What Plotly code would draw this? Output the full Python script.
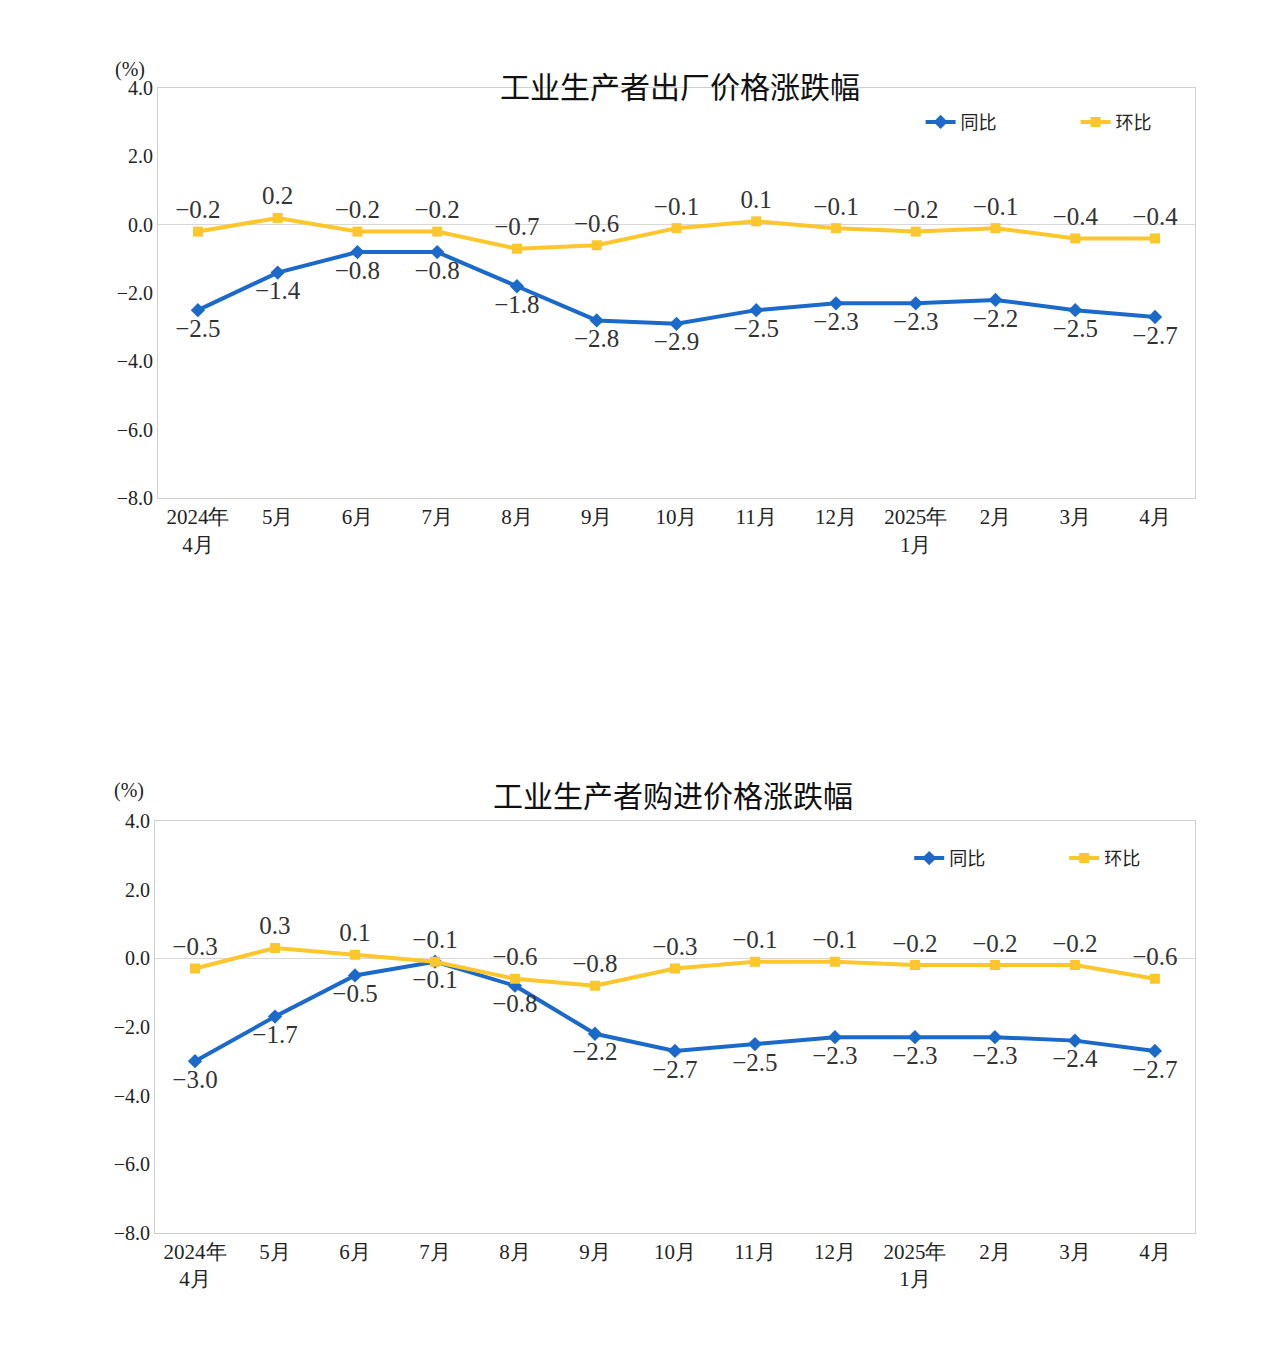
import plotly.graph_objects as go

MONTHS = ["2024年<br>4月", "5月", "6月", "7月", "8月", "9月", "10月", "11月",
          "12月", "2025年<br>1月", "2月", "3月", "4月"]

# 出厂价格
PPI_YOY = [-2.5, -1.4, -0.8, -0.8, -1.8, -2.8, -2.9, -2.5, -2.3, -2.3, -2.2, -2.5, -2.7]
PPI_MOM = [-0.2, 0.2, -0.2, -0.2, -0.7, -0.6, -0.1, 0.1, -0.1, -0.2, -0.1, -0.4, -0.4]
# 购进价格
PPIRM_YOY = [-3.0, -1.7, -0.5, -0.1, -0.8, -2.2, -2.7, -2.5, -2.3, -2.3, -2.3, -2.4, -2.7]
PPIRM_MOM = [-0.3, 0.3, 0.1, -0.1, -0.6, -0.8, -0.3, -0.1, -0.1, -0.2, -0.2, -0.2, -0.6]

BLUE = "#1b6ac9"
YELLOW = "#fcc62d"
SERIF = "Liberation Serif, DejaVu Serif, serif"
CJK = "Noto Sans CJK SC"


def fmt(v):
    return f"{v:.1f}".replace("-", "−")


fig = go.Figure()


def add_panel(idx, yoy, mom):
    xa = "x" if idx == 1 else f"x{idx}"
    ya = "y" if idx == 1 else f"y{idx}"
    leg = "legend" if idx == 1 else "legend2"
    fig.add_trace(go.Scatter(
        x=list(range(len(MONTHS))), y=yoy, xaxis=xa, yaxis=ya,
        mode="lines+markers+text", name="同比",
        line={"color": BLUE, "width": 4},
        marker={"symbol": "diamond", "size": 11, "color": BLUE},
        text=[fmt(v) for v in yoy], textposition="bottom center",
        textfont={"family": SERIF, "size": 25, "color": "#333"},
        legend=leg,
    ))
    fig.add_trace(go.Scatter(
        x=list(range(len(MONTHS))), y=mom, xaxis=xa, yaxis=ya,
        mode="lines+markers+text", name="环比",
        line={"color": YELLOW, "width": 4},
        marker={"symbol": "square", "size": 10, "color": YELLOW},
        text=[fmt(v) for v in mom], textposition="top center",
        textfont={"family": SERIF, "size": 25, "color": "#333"},
        legend=leg,
    ))


add_panel(1, PPI_YOY, PPI_MOM)
add_panel(2, PPIRM_YOY, PPIRM_MOM)

xcommon = dict(tickmode="array", tickvals=list(range(len(MONTHS))), ticktext=MONTHS,
               range=[-0.5, 12.5], showgrid=False, zeroline=False, showline=True,
               mirror=True, linecolor="#d0d0d0", ticks="",
               tickfont={"family": SERIF, "size": 21, "color": "#222"})
ycommon = dict(range=[-8, 4], dtick=2, tickformat=".1f", showgrid=False,
               zeroline=True, zerolinecolor="#d8d8d8", zerolinewidth=1,
               showline=True, mirror=True, linecolor="#d0d0d0", ticks="",
               tickfont={"family": SERIF, "size": 20, "color": "#222"})

legcommon = dict(orientation="h", xanchor="left", yanchor="middle",
                 bgcolor="rgba(0,0,0,0)", entrywidth=110,
                 font={"family": CJK, "size": 18, "color": "#222"})

fig.update_layout(
    width=1264, height=1346, margin={"l": 0, "r": 0, "t": 0, "b": 0},
    plot_bgcolor="white", paper_bgcolor="white",
    xaxis=dict(domain=[0.1187, 0.939], anchor="y", **xcommon),
    yaxis=dict(domain=[0.6382, 0.9478], anchor="x", **ycommon),
    xaxis2=dict(domain=[0.1163, 0.939], anchor="y2", **xcommon),
    yaxis2=dict(domain=[0.0832, 0.3943], anchor="x2", **ycommon),
    legend=dict(x=0.722, y=0.922, **legcommon),
    legend2=dict(x=0.713, y=0.366, **legcommon),
    annotations=[
        dict(text="工业生产者出厂价格涨跌幅", x=0.532, y=0.968, xref="paper", yref="paper",
             showarrow=False, font={"family": CJK, "size": 30, "color": "#111"}),
        dict(text="(%)", x=0.083, y=0.972, xref="paper", yref="paper", showarrow=False,
             font={"family": SERIF, "size": 20, "color": "#222"}),
        dict(text="工业生产者购进价格涨跌幅", x=0.526, y=0.415, xref="paper", yref="paper",
             showarrow=False, font={"family": CJK, "size": 30, "color": "#111"}),
        dict(text="(%)", x=0.082, y=0.417, xref="paper", yref="paper", showarrow=False,
             font={"family": SERIF, "size": 20, "color": "#222"}),
    ],
)

fig.write_html("out.html")
